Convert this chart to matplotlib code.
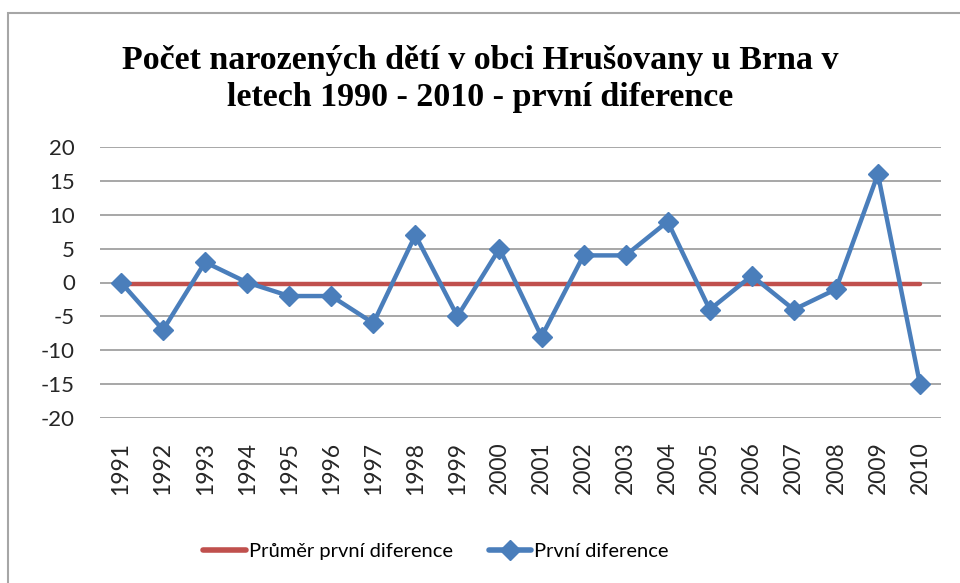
import numpy as np
import matplotlib.pyplot as plt
from matplotlib.patches import Rectangle
from matplotlib.lines import Line2D

years = [str(y) for y in range(1991, 2011)]
diffs = [0, -7, 3, 0, -2, -2, -6, 7, -5, 5, -8, 4, 4, 9, -4, 1, -4, -1, 16, -15]
mean_diff = np.mean(diffs)

blue = '#4a7ebb'
red = '#c0504d'
sans = ['Lato', 'DejaVu Sans']
plt.rcParams['axes.unicode_minus'] = False

fig = plt.figure(figsize=(9.6, 5.83), dpi=100)

# outer chart frame
fig.patches.append(Rectangle((8 / 960, -0.05), 1.0, 1 - 13 / 583 + 0.05,
                             transform=fig.transFigure, fill=False,
                             edgecolor='#a6a6a6', linewidth=1.5))

ax = fig.add_axes([100 / 960, 1 - 418 / 583, 841 / 960, 271 / 583])

x = np.arange(len(years))
ax.plot(x, [mean_diff] * len(x), color=red, linewidth=3.2, solid_capstyle='round',
        zorder=3)
ax.plot(x, diffs, color=blue, linewidth=3.2, marker='D', markersize=10,
        zorder=4)

ax.set_xlim(-0.5, len(years) - 0.5)
ax.set_ylim(-20, 20)
ax.set_yticks(np.arange(-20, 21, 5))
ax.set_xticks(x)
ax.set_xticklabels(years, rotation=90, family=sans, fontsize=16.5)
for lab in ax.get_yticklabels():
    lab.set_family(sans)
    lab.set_fontsize(16)
ax.tick_params(axis='y', length=0, pad=18, colors='#262626')
ax.tick_params(axis='x', length=0, pad=17, colors='#262626')
ax.grid(axis='y', color='#a0a0a0', linewidth=1.3)
ax.set_axisbelow(True)
for s in ax.spines.values():
    s.set_visible(False)

fig.text(0.5, 1 - 79 / 583, 'Počet narozených dětí v obci Hrušovany u Brna v\nletech 1990 - 2010 - první diference',
         ha='center', va='center', family='Liberation Serif', fontweight='bold',
         fontsize=24.5, linespacing=1.25)

handles = [Line2D([], [], color=red, linewidth=4, solid_capstyle='round'),
           Line2D([], [], color=blue, linewidth=4, marker='D', markersize=10,
                  solid_capstyle='round')]
fig.legend(handles, ['Průměr první diference', 'První diference'],
           loc='center', bbox_to_anchor=(436 / 960, 1 - 551 / 583), ncol=2,
           frameon=False, prop={'family': sans, 'size': 14.5},
           handlelength=2.1, handletextpad=0.15, columnspacing=1.8)

fig.savefig('out.png', dpi=100)
